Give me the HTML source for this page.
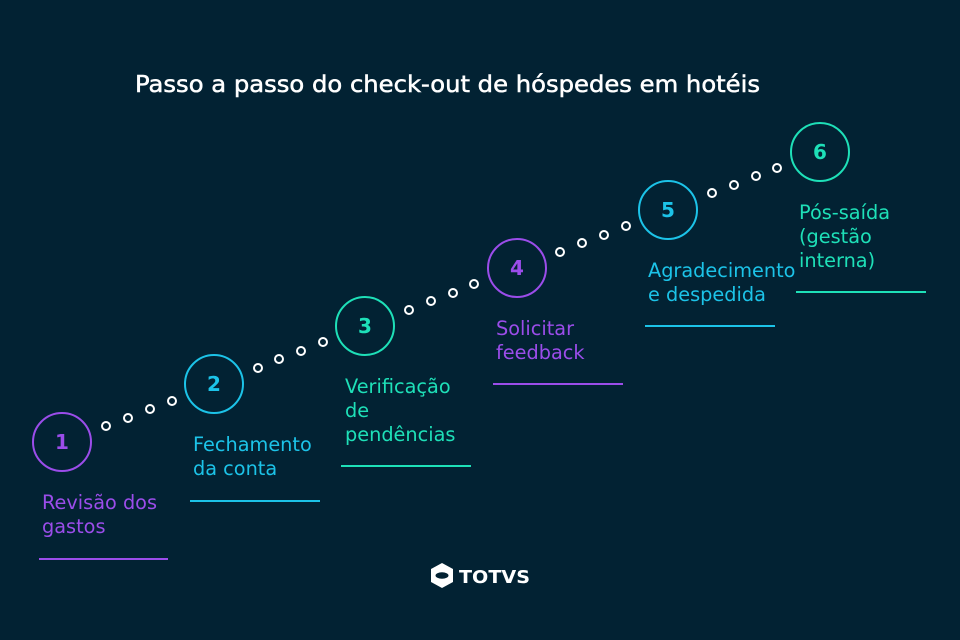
<!DOCTYPE html>
<html><head><meta charset="utf-8"><style>
html,body{margin:0;padding:0;background:#022233;}
svg{display:block}
text{font-family:"DejaVu Sans","Liberation Sans",sans-serif;}
</style></head><body>
<svg width="960" height="640" viewBox="0 0 960 640" xmlns="http://www.w3.org/2000/svg">
<rect width="960" height="640" fill="#022233"/>
<text x="135" y="92" font-size="23" fill="#ffffff" stroke="#ffffff" stroke-width="0.5" textLength="625" lengthAdjust="spacingAndGlyphs">Passo a passo do check-out de hóspedes em hotéis</text>
<g fill="none" stroke="#ffffff" stroke-width="2">
<circle cx="106" cy="426" r="4"/><circle cx="128" cy="418" r="4"/><circle cx="150" cy="409" r="4"/><circle cx="172" cy="401" r="4"/>
<circle cx="258" cy="368" r="4"/><circle cx="279" cy="359" r="4"/><circle cx="301" cy="351" r="4"/><circle cx="323" cy="342" r="4"/>
<circle cx="409" cy="310" r="4"/><circle cx="431" cy="301" r="4"/><circle cx="453" cy="293" r="4"/><circle cx="474" cy="284" r="4"/>
<circle cx="560" cy="252" r="4"/><circle cx="582" cy="243" r="4"/><circle cx="604" cy="235" r="4"/><circle cx="626" cy="226" r="4"/>
<circle cx="712" cy="193" r="4"/><circle cx="734" cy="185" r="4"/><circle cx="756" cy="176" r="4"/><circle cx="777" cy="168" r="4"/>
</g>
<g stroke-width="2" fill="none">
<circle cx="62" cy="442" r="29" stroke="#9b4dea"/>
<circle cx="214" cy="384" r="29" stroke="#1cc3e8"/>
<circle cx="365" cy="326" r="29" stroke="#1ee0b8"/>
<circle cx="517" cy="268" r="29" stroke="#9b4dea"/>
<circle cx="668" cy="210" r="29" stroke="#1cc3e8"/>
<circle cx="820" cy="152" r="29" stroke="#1ee0b8"/>
</g>
<g font-size="20" font-weight="bold" text-anchor="middle">
<text x="62" y="449" fill="#9b4dea">1</text>
<text x="214" y="391" fill="#1cc3e8">2</text>
<text x="365" y="333" fill="#1ee0b8">3</text>
<text x="517" y="275" fill="#9b4dea">4</text>
<text x="668" y="217" fill="#1cc3e8">5</text>
<text x="820" y="159" fill="#1ee0b8">6</text>
</g>
<g font-size="19.3">
<text x="42" y="509" fill="#9b4dea">Revisão dos</text><text x="42" y="533" fill="#9b4dea">gastos</text>
<text x="193" y="451" fill="#1cc3e8">Fechamento</text><text x="193" y="475" fill="#1cc3e8">da conta</text>
<text x="345" y="393" fill="#1ee0b8">Verificação</text><text x="345" y="417" fill="#1ee0b8">de</text><text x="345" y="441" fill="#1ee0b8">pendências</text>
<text x="496" y="335" fill="#9b4dea">Solicitar</text><text x="496" y="359" fill="#9b4dea">feedback</text>
<text x="648" y="277" fill="#1cc3e8">Agradecimento</text><text x="648" y="301" fill="#1cc3e8">e despedida</text>
<text x="799" y="219" fill="#1ee0b8">Pós-saída</text><text x="799" y="243" fill="#1ee0b8">(gestão</text><text x="799" y="267" fill="#1ee0b8">interna)</text>
</g>
<g stroke-width="2">
<line x1="39" y1="559" x2="168" y2="559" stroke="#9b4dea"/>
<line x1="190" y1="501" x2="320" y2="501" stroke="#1cc3e8"/>
<line x1="341" y1="466" x2="471" y2="466" stroke="#1ee0b8"/>
<line x1="493" y1="384" x2="623" y2="384" stroke="#9b4dea"/>
<line x1="645" y1="326" x2="775" y2="326" stroke="#1cc3e8"/>
<line x1="796" y1="292" x2="926" y2="292" stroke="#1ee0b8"/>
</g>
<path d="M442 563 L453 569 L453 582 L442 588 L431 582 L431 569 Z" fill="#ffffff"/>
<ellipse cx="442" cy="575.5" rx="6.5" ry="3.2" fill="#022233"/>
<text x="459" y="583" font-size="18" font-weight="bold" fill="#ffffff" textLength="71" lengthAdjust="spacingAndGlyphs">TOTVS</text>
</svg>
</body></html>
